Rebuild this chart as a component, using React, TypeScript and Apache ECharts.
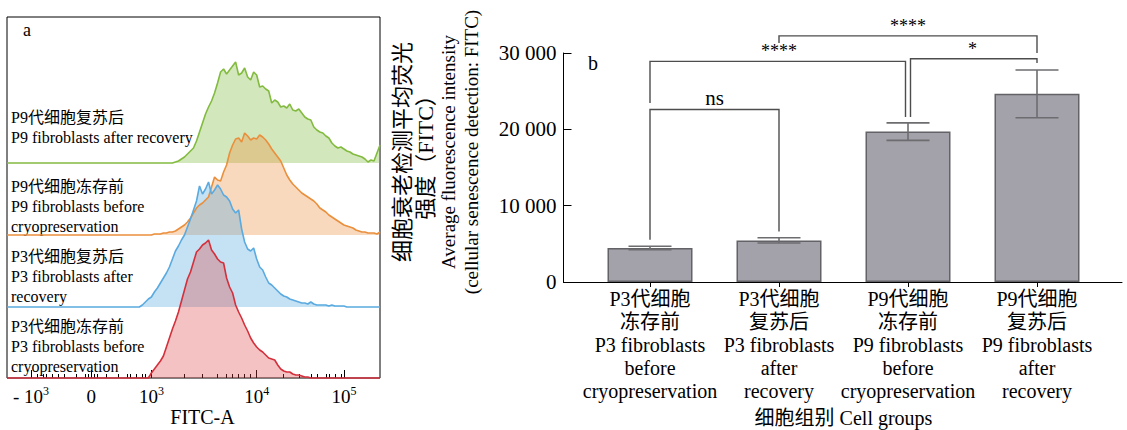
import { useEffect, useRef } from 'react';
import * as echarts from 'echarts';

// ---------- Panel a: FITC-A histograms (display-channel bins) ----------
const BIN_COUNT = 125;
const fitcBins = Array.from({ length: BIN_COUNT }, (_, i) => String(i));

const p9AfterStart = 55;
const p9AfterCounts = [0, 1, 2, 4, 6, 9, 12, 15, 22, 31, 40, 49, 56, 62, 70, 80, 91, 94, 89, 93, 97, 101, 88, 90, 95, 86, 83, 91, 88, 76, 77, 74, 72, 60, 63, 61, 56, 57, 55, 59, 53, 52, 54, 50, 46, 44, 43, 36, 33, 31, 30, 27, 25, 20, 17, 15, 16, 14, 12, 11, 9, 8, 7, 6, 4, 1, 3, 2, 10, 18];

const p9BeforeStart = 48;
const p9BeforeCounts = [0, 1, 1, 1, 2, 2, 3, 3, 4, 6, 8, 10, 13, 17, 22, 27, 30, 32, 35, 38, 48, 58, 55, 54, 63, 70, 82, 90, 96, 97, 93, 102, 99, 95, 97, 96, 100, 98, 95, 91, 86, 82, 78, 74, 67, 60, 55, 51, 48, 45, 42, 40, 38, 36, 34, 31, 27, 25, 23, 20, 18, 16, 14, 12, 10, 9, 8, 7, 5, 4, 3, 3, 2, 2, 2, 1, 3];

const p3AfterStart = 44;
const p3AfterCounts = [0, 2, 5, 8, 10, 15, 19, 24, 29, 34, 40, 48, 56, 61, 67, 72, 80, 88, 97, 106, 121, 113, 118, 125, 113, 117, 122, 118, 112, 110, 106, 98, 94, 97, 78, 65, 58, 56, 59, 48, 40, 37, 30, 24, 22, 19, 16, 13, 11, 10, 8, 7, 6, 5, 4, 4, 3, 5, 3, 2, 2, 2, 2, 1, 2, 1, 1, 1, 1];

const p3BeforeStart = 47;
const p3BeforeCounts = [0, 5, 9, 13, 17, 22, 31, 40, 49, 57, 66, 77, 88, 99, 106, 116, 126, 129, 133, 135, 138, 128, 124, 119, 116, 115, 100, 91, 85, 73, 66, 60, 53, 47, 40, 35, 31, 28, 26, 23, 20, 19, 18, 13, 9, 7, 6, 6, 4, 3, 3, 2, 1, 1];

const histogramNames = ['P9 after recovery', 'P9 before cryopreservation', 'P3 after recovery', 'P3 before cryopreservation'];
const histogramLabels = [
  'P9代细胞复苏后\nP9 fibroblasts after recovery',
  'P9代细胞冻存前\nP9 fibroblasts before\ncryopreservation',
  'P3代细胞复苏后\nP3 fibroblasts after\nrecovery',
  'P3代细胞冻存前\nP3 fibroblasts before\ncryopreservation',
];

const fitcMajorTickBins = [8, 28, 48, 83, 112];
const fitcTickBase = ['- 10', '0', '10', '10', '10'];
const fitcTickExp = ['3', '', '3', '4', '5'];
const fitcMinorTickBins = [10, 12, 13, 15, 17, 19, 23, 26, 27, 29, 30, 33, 37, 40, 41, 43, 45, 46, 59, 65, 70, 73, 75, 77, 79, 81, 92, 97, 101, 103, 106, 107, 109, 111];

// ---------- Panel b: bar chart ----------
const groupCategories = [
  'P3代细胞\n冻存前\nP3 fibroblasts\nbefore\ncryopreservation',
  'P3代细胞\n复苏后\nP3 fibroblasts\nafter\nrecovery',
  'P9代细胞\n冻存前\nP9 fibroblasts\nbefore\ncryopreservation',
  'P9代细胞\n复苏后\nP9 fibroblasts\nafter\nrecovery',
];
const groupMeans = [4450, 5450, 19700, 24650];
const groupSDs = [230, 350, 1150, 3130];
const yTickValues = [0, 10000, 20000, 30000];
const yTickLabels = ['0', '10 000', '20 000', '30 000'];

// [fromGroup, toGroup, bracketLevel, leftLegEnd, rightLegEnd]
const brackets = [
  [0, 1, 22600, 5550, 6600],
  [0, 2, 28900, 23450, 21600],
  [1, 3, 32250, 31300, 30000],
  [2, 3, 29250, 21600, 28700],
];
const bracketLabels = ['ns', '****', '****', '*'];

const yTitleCn = ['细胞衰老检测平均荧光', '强度（FITC）'];
const yTitleEn = ['Average fluorescence intensity', '(cellular senescence detection: FITC)'];

// ---------- styles / layout ----------
const SERIF = "'Liberation Serif', 'Times New Roman', 'Noto Sans CJK SC', serif";
const rowTops = [91, 163, 235, 307];
const rowHeights = [72, 72, 72, 71];
const rowLabelTops = [107, 176, 246, 316];
const lineColors = ['#82bb3f', '#ea8f3c', '#5aaae0', '#d4303c'];
const fillColors = ['rgba(130,187,63,0.5)', 'rgba(234,143,60,0.48)', 'rgba(90,170,224,0.5)', 'rgba(220,60,60,0.45)'];
const bracketLegShift = [[0, 0], [0, -2.5], [0, 0], [2.5, 0]];

function padBins(start: number, counts: number[]) {
  const arr = new Array(BIN_COUNT).fill(0);
  counts.forEach((c, i) => {
    if (start + i < BIN_COUNT) arr[start + i] = c;
  });
  return arr;
}

export default function App() {
  const ref = useRef<HTMLDivElement>(null);

  useEffect(() => {
    document.body.style.margin = '0';
    if (!ref.current) return;
    const chart = echarts.init(ref.current, null, { renderer: 'svg' });

    const histograms = [
      padBins(p9AfterStart, p9AfterCounts),
      padBins(p9BeforeStart, p9BeforeCounts),
      padBins(p3AfterStart, p3AfterCounts),
      padBins(p3BeforeStart, p3BeforeCounts),
    ];

    const option: any = {
      animation: false,
      backgroundColor: '#fff',
      textStyle: { fontFamily: SERIF, color: '#000' },
      grid: [
        ...rowTops.map((t, i) => ({ left: 7, top: t, width: 373, height: rowHeights[i], outerBoundsMode: 'none' })),
        { left: 585.5, top: 53, width: 516, height: 229, outerBoundsMode: 'none' },
        { left: 563.5, top: 53, right: 5, height: 229, outerBoundsMode: 'none' },
        { left: 7, top: 17, width: 373, height: 361, show: true, borderColor: '#000', borderWidth: 1, backgroundColor: 'transparent', outerBoundsMode: 'none' },
      ],
      xAxis: [
        ...[0, 1, 2].map((i) => ({ type: 'category', gridIndex: i, data: fitcBins, boundaryGap: false, show: false })),
        {
          type: 'category',
          gridIndex: 3,
          position: 'bottom',
          data: fitcBins,
          boundaryGap: false,
          axisLine: { show: false },
          axisTick: {
            show: true,
            inside: true,
            length: 8,
            interval: (i: number) => fitcMajorTickBins.includes(i),
            lineStyle: { color: '#000', width: 1 },
          },
          axisLabel: {
            interval: (i: number) => fitcMajorTickBins.includes(i),
            margin: 7,
            color: '#000',
            formatter: (_v: string, idx: number) => {
              const k = fitcMajorTickBins.indexOf(idx);
              if (k < 0) return '';
              const e = fitcTickExp[k];
              return e ? `{b|${fitcTickBase[k]}}{s|${e}}` : `{b|${fitcTickBase[k]}}`;
            },
            rich: {
              b: { fontSize: 19, fontFamily: SERIF, color: '#000', lineHeight: 22 },
              s: { fontSize: 12, fontFamily: SERIF, color: '#000', lineHeight: 12, verticalAlign: 'top' },
            },
          },
          splitLine: { show: false },
          name: 'FITC-A',
          nameLocation: 'middle',
          nameGap: 26,
          nameTextStyle: { fontFamily: SERIF, fontSize: 20, color: '#000', lineHeight: 22, padding: [0, 0, 0, 18] },
        },
        {
          type: 'category',
          gridIndex: 3,
          position: 'bottom',
          data: fitcBins,
          boundaryGap: false,
          axisLine: { show: false },
          axisTick: {
            show: true,
            inside: true,
            length: 4,
            interval: (i: number) => fitcMinorTickBins.includes(i),
            lineStyle: { color: '#000', width: 1 },
          },
          axisLabel: { show: false },
          splitLine: { show: false },
        },
        {
          type: 'category',
          gridIndex: 4,
          position: 'bottom',
          data: groupCategories,
          axisLine: { show: false },
          axisTick: { show: true, alignWithLabel: true, length: 5, lineStyle: { color: '#000' } },
          axisLabel: { interval: 0, margin: 5, fontFamily: SERIF, fontSize: 20, lineHeight: 23, color: '#000' },
          splitLine: { show: false },
          name: '细胞组别 Cell groups',
          nameLocation: 'middle',
          nameGap: 121,
          nameTextStyle: { fontFamily: SERIF, fontSize: 20, color: '#000', lineHeight: 22 },
        },
        {
          type: 'value',
          gridIndex: 5,
          position: 'bottom',
          min: 0,
          max: 1,
          axisLine: { show: true, onZero: false, lineStyle: { color: '#000', width: 1 } },
          axisTick: { show: false },
          axisLabel: { show: false },
          splitLine: { show: false },
        },
      ],
      yAxis: [
        ...[0, 1, 2, 3].map((i) => ({ type: 'value', gridIndex: i, min: 0, max: rowHeights[i], show: false })),
        { type: 'value', gridIndex: 4, min: 0, max: 30000, show: false },
        {
          type: 'value',
          gridIndex: 5,
          min: 0,
          max: 30000,
          interval: 10000,
          axisLine: { show: true, lineStyle: { color: '#000', width: 1 } },
          axisTick: { show: true, inside: true, length: 8, lineStyle: { color: '#000' } },
          axisLabel: {
            margin: 7,
            fontFamily: SERIF,
            fontSize: 21,
            color: '#000',
            formatter: (v: number) => {
              const k = yTickValues.indexOf(v);
              return k >= 0 ? yTickLabels[k] : '';
            },
          },
          splitLine: { show: false },
        },
      ],
      series: [
        ...histograms.map((h, i) => ({
          type: 'line',
          name: histogramNames[i],
          xAxisIndex: i,
          yAxisIndex: i,
          data: h,
          symbol: 'none',
          smooth: false,
          clip: false,
          lineStyle: { color: lineColors[i], width: 1.6 },
          areaStyle: { color: fillColors[i] },
        })),
        {
          type: 'bar',
          name: 'Mean FITC',
          xAxisIndex: 5,
          yAxisIndex: 4,
          data: groupMeans,
          barWidth: 85,
          itemStyle: { color: '#a3a1a9', borderColor: '#636367', borderWidth: 1.5 },
        },
        {
          type: 'custom',
          name: 'SD',
          xAxisIndex: 5,
          yAxisIndex: 4,
          clip: false,
          z: 3,
          encode: { x: 0, y: 1 },
          data: groupMeans.map((m, i) => [i, m, groupSDs[i]]),
          renderItem: (_params: any, api: any) => {
            const x = api.value(0);
            const m = api.value(1);
            const s = api.value(2);
            const top = api.coord([x, m + s]);
            const bot = api.coord([x, m - s]);
            const half = 21.5;
            const style = { stroke: '#6d6d70', lineWidth: 1.6 };
            return {
              type: 'group',
              children: [
                { type: 'line', shape: { x1: top[0], y1: top[1], x2: bot[0], y2: bot[1] }, style },
                { type: 'line', shape: { x1: top[0] - half, y1: top[1], x2: top[0] + half, y2: top[1] }, style },
                { type: 'line', shape: { x1: bot[0] - half, y1: bot[1], x2: bot[0] + half, y2: bot[1] }, style },
              ],
            };
          },
        },
        {
          type: 'custom',
          name: 'Significance',
          xAxisIndex: 5,
          yAxisIndex: 4,
          clip: false,
          z: 4,
          encode: { x: 0, y: 2 },
          data: brackets,
          renderItem: (params: any, api: any) => {
            const a = api.value(0);
            const b = api.value(1);
            const lvl = api.value(2);
            const le = api.value(3);
            const re = api.value(4);
            const shift = bracketLegShift[params.dataIndex] || [0, 0];
            const pL = api.coord([a, lvl]);
            const pR = api.coord([b, lvl]);
            const pLe = api.coord([a, le]);
            const pRe = api.coord([b, re]);
            const xL = pL[0] + shift[0];
            const xR = pR[0] + shift[1];
            const style = { stroke: '#4d4d4d', lineWidth: 1.4, fill: 'none' };
            const label = bracketLabels[params.dataIndex];
            const isNs = label === 'ns';
            return {
              type: 'group',
              children: [
                {
                  type: 'polyline',
                  shape: { points: [[xL, pLe[1]], [xL, pL[1]], [xR, pR[1]], [xR, pRe[1]]] },
                  style,
                },
                {
                  type: 'text',
                  x: (pL[0] + pR[0]) / 2,
                  y: pL[1] - 1,
                  style: {
                    text: label,
                    align: 'center',
                    verticalAlign: 'bottom',
                    fontSize: isNs ? 21 : 18,
                    fontFamily: SERIF,
                    fill: '#000',
                  },
                },
              ],
            };
          },
        },
      ],
      graphic: [
        { type: 'text', x: 27, y: 30, style: { text: 'a', fontSize: 18, fontFamily: SERIF, fill: '#000', align: 'center', verticalAlign: 'middle' } },
        ...rowLabelTops.map((t, i) => ({
          type: 'text',
          x: 11,
          y: t,
          style: { text: histogramLabels[i], fontSize: 16, lineHeight: 20, fontFamily: SERIF, fill: '#000', align: 'left', verticalAlign: 'top' },
        })),
        { type: 'text', x: 593, y: 63, style: { text: 'b', fontSize: 20, fontFamily: SERIF, fill: '#000', align: 'center', verticalAlign: 'middle' } },
        {
          type: 'text',
          x: 437,
          y: 152,
          rotation: Math.PI / 2,
          style: {
            text: [...yTitleCn.map((t) => `{c|${t}}`), ...yTitleEn.map((t) => `{e|${t}}`)].join('\n'),
            fontFamily: SERIF,
            fill: '#000',
            align: 'center',
            verticalAlign: 'middle',
            rich: {
              c: { fontSize: 22, lineHeight: 23, fontFamily: SERIF, fill: '#000', align: 'center' },
              e: { fontSize: 19, lineHeight: 23, fontFamily: SERIF, fill: '#000', align: 'center' },
            },
          },
        },
      ],
    };

    chart.setOption(option);
    return () => chart.dispose();
  }, []);

  return <div ref={ref} style={{ width: 1127, height: 430 }} />;
}
